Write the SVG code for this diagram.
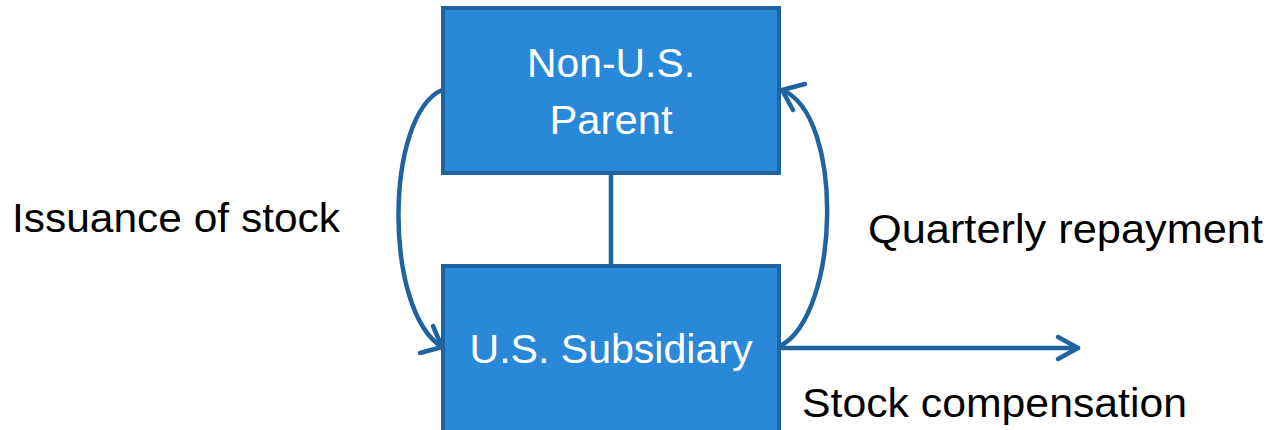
<svg xmlns="http://www.w3.org/2000/svg" width="1272" height="430" viewBox="0 0 1272 430">
<defs>
<style>
.box{fill:#2A88D8;stroke:#1F63A0;stroke-width:4}
.wt{fill:#FFFFFF;font-family:"Liberation Sans",Arial,sans-serif;font-size:41px;text-anchor:middle}
.bt{fill:#000000;font-family:"Liberation Sans",Arial,sans-serif;font-size:41px}
.ln{fill:none;stroke:#1F63A0;stroke-width:4.5;stroke-linecap:round;stroke-linejoin:round}
</style>
</defs>
<rect width="1272" height="430" fill="#FFFFFF"/>
<g id="connectors">
<line class="ln" x1="611" y1="173" x2="611" y2="266"/>
<path class="ln" d="M442 90 C385 115 383 310 442 347"/>
<path class="ln" d="M420 353 L442 347 L433 326"/>
<path class="ln" d="M780 346 C840 315 845 115 782 90"/>
<path class="ln" d="M805 84 L782 90 L793 110"/>
<line class="ln" x1="780" y1="348" x2="1078" y2="348"/>
<path class="ln" d="M1058 337 L1078 348 L1058 359"/>
</g>
<g id="parent">
<rect class="box" x="443" y="8" width="336" height="165"/>
<text class="wt" x="611" y="77" textLength="168" lengthAdjust="spacingAndGlyphs">Non-U.S.</text>
<text class="wt" x="611" y="134" textLength="123" lengthAdjust="spacingAndGlyphs">Parent</text>
</g>
<g id="subsidiary">
<rect class="box" x="443" y="266" width="336" height="170"/>
<text class="wt" x="611" y="363" textLength="283" lengthAdjust="spacingAndGlyphs">U.S. Subsidiary</text>
</g>
<g id="labels">
<text class="bt" x="12" y="232" textLength="328" lengthAdjust="spacingAndGlyphs">Issuance of stock</text>
<text class="bt" x="868" y="243" textLength="395" lengthAdjust="spacingAndGlyphs">Quarterly repayment</text>
<text class="bt" x="802" y="417" textLength="385" lengthAdjust="spacingAndGlyphs">Stock compensation</text>
</g>
</svg>
